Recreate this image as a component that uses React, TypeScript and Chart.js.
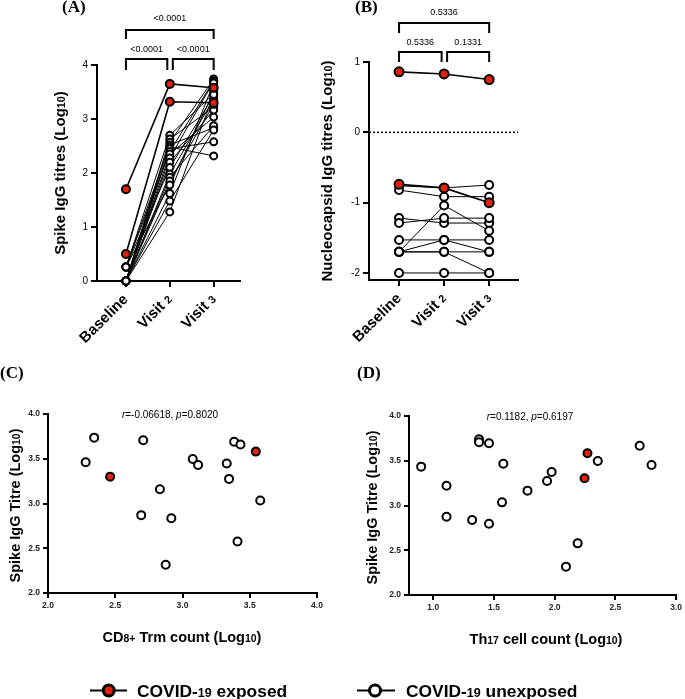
import React, { useEffect, useRef } from "react";
import { Chart, registerables } from "chart.js";
Chart.register(...registerables);

const W = 685;
const H = 699;
const SANS = "'Liberation Sans', Arial, Helvetica, sans-serif";
const SERIF = "'Liberation Serif', 'Times New Roman', serif";
const RED = "#e3200b";

// ---------- Panel A: Spike IgG titres ----------
const visitTickLabels = ["Baseline", "Visit {2}", "Visit {3}"];
const spikeExposed = [
  [1.7, 3.65, 3.58],
  [0.5, 3.32, 3.3],
];
const spikeBaseline = [0.26, 0, 0, 0.26, 0, 0, 0.26, 0, 0, 0, 0.26, 0, 0, 0, 0.26, 0, 0, 0];
const spikeVisit2 = [2.7, 2.63, 2.57, 2.52, 2.48, 2.45, 2.4, 2.35, 2.28, 2.2, 2.1, 1.98, 1.92, 1.85, 1.78, 1.62, 1.48, 1.28];
const spikeVisit3 = [3.467, 3.22, 3.74, 2.838, 2.317, 2.577, 3.706, 3.035, 3.695, 3.166, 3.434, 3.374, 2.875, 3.274, 3.497, 3.668, 2.797, 3.452];
const spikePValues = ["<0.0001", "<0.0001", "<0.0001"]; // B-V2, V2-V3, B-V3
const spikeYTicks = [0, 1, 2, 3, 4];

// ---------- Panel B: Nucleocapsid IgG titres ----------
const ncExposed = [
  [0.86, 0.83, 0.75],
  [-0.74, -0.79, -1.0],
];
const ncBaseline = [-0.76, -0.82, -1.22, -1.29, -1.53, -1.7, -1.7, -1.7, -1.7, -2.0];
const ncVisit2 = [-0.79, -0.915, -1.29, -1.22, -1.53, -1.53, -1.04, -1.7, -1.7, -2.0];
const ncVisit3 = [-0.75, -0.915, -1.29, -1.22, -1.53, -1.7, -1.4, -1.7, -2.0, -2.0];
const ncPValues = ["0.5336", "0.1331", "0.5336"];
const ncYTicks = [-2, -1, 0, 1];

// ---------- Panel C: CD8+ Trm vs Spike ----------
const cd8UnexpX = [2.28, 2.343, 2.708, 2.693, 2.832, 2.875, 2.917, 3.076, 3.116, 3.329, 3.346, 3.384, 3.431, 3.409, 3.578];
const cd8UnexpY = [3.46, 3.736, 3.706, 2.87, 3.16, 2.316, 2.836, 3.498, 3.43, 3.446, 3.275, 3.69, 3.66, 2.576, 3.033];
const cd8ExpX = [2.462, 3.545];
const cd8ExpY = [3.3, 3.58];
const cd8XTicks = [2.0, 2.5, 3.0, 3.5, 4.0];
const corrC = ["-0.06618", "0.8020"];

// ---------- Panel D: Th17 vs Spike ----------
const th17UnexpX = [0.9, 1.109, 1.109, 1.32, 1.377, 1.377, 1.459, 1.459, 1.566, 1.577, 1.776, 1.937, 1.975, 2.093, 2.189, 2.355, 2.7, 2.798];
const th17UnexpY = [3.434, 3.22, 2.875, 2.838, 3.74, 3.706, 3.695, 2.797, 3.035, 3.467, 3.166, 3.274, 3.374, 2.317, 2.577, 3.497, 3.668, 3.452];
const th17ExpX = [2.246, 2.27];
const th17ExpY = [3.304, 3.583];
const th17XTicks = [1.0, 1.5, 2.0, 2.5, 3.0];
const corrD = ["0.1182", "0.6197"];
const scatterYTicks = [2.0, 2.5, 3.0, 3.5, 4.0];

// ---------- Text ----------
const titleA = "Spike IgG titres (Log{10})";
const titleB = "Nucleocapsid IgG titres (Log{10})";
const titleScatterY = "Spike IgG Titre (Log{10})";
const titleCX = "CD{8+} Trm count (Log{10})";
const titleDX = "Th{17} cell count (Log{10})";
const panelLetters = ["(A)", "(B)", "(C)", "(D)"];
const legendLabels = ["COVID-{19} exposed", "COVID-{19} unexposed"];

type Seg = { t: string; s: number; w?: string; i?: boolean; f?: string };

function rich(str: string, size: number, w = "bold", ratio = 0.72): Seg[] {
  const out: Seg[] = [];
  const re = /\{([^}]*)\}/g;
  let last = 0;
  let m: RegExpExecArray | null;
  while ((m = re.exec(str))) {
    if (m.index > last) out.push({ t: str.slice(last, m.index), s: size, w });
    out.push({ t: m[1], s: size * ratio, w });
    last = m.index + m[0].length;
  }
  if (last < str.length) out.push({ t: str.slice(last), s: size, w });
  return out;
}

function drawText(ctx: CanvasRenderingContext2D, segs: Seg[], x: number, y: number, align = "left", angle = 0) {
  ctx.save();
  ctx.translate(x, y);
  if (angle) ctx.rotate(angle);
  ctx.fillStyle = "#000";
  ctx.textBaseline = "alphabetic";
  ctx.textAlign = "left";
  const font = (g: Seg) => `${g.i ? "italic " : ""}${g.w ?? "normal"} ${g.s}px ${g.f ?? SANS}`;
  let total = 0;
  for (const g of segs) {
    ctx.font = font(g);
    total += ctx.measureText(g.t).width;
  }
  let cx = align === "center" ? -total / 2 : align === "right" ? -total : 0;
  for (const g of segs) {
    ctx.font = font(g);
    ctx.fillText(g.t, cx, 0);
    cx += ctx.measureText(g.t).width;
  }
  ctx.restore();
}

function bracket(ctx: CanvasRenderingContext2D, x1: number, x2: number, yTop: number, yBot: number, label: string, textY: number, size: number) {
  ctx.save();
  ctx.strokeStyle = "#000";
  ctx.lineWidth = 2;
  ctx.lineJoin = "miter";
  ctx.beginPath();
  ctx.moveTo(x1, yBot);
  ctx.lineTo(x1, yTop);
  ctx.lineTo(x2, yTop);
  ctx.lineTo(x2, yBot);
  ctx.stroke();
  ctx.font = `${size}px ${SANS}`;
  ctx.textAlign = "center";
  ctx.textBaseline = "middle";
  ctx.fillStyle = "#000";
  ctx.fillText(label, (x1 + x2) / 2, textY);
  ctx.restore();
}

const axisLine = { display: true, color: "#000", width: 2 };
const tickGrid = (len: number) => ({ display: true, drawOnChartArea: false, drawTicks: true, tickLength: len, color: "#000", lineWidth: 2 });
const fixTicks = (vals: number[]) => (s: any) => {
  s.ticks = vals.map((v) => ({ value: v }));
};

function pointSet(pts: { x: number; y: number }[], fill: string, r: number, order: number) {
  return {
    data: pts,
    showLine: false,
    pointRadius: r,
    pointBorderWidth: 2,
    pointBackgroundColor: fill,
    pointBorderColor: "#000",
    order,
    clip: false,
  };
}
function lineSet(vals: number[], width: number) {
  return {
    data: vals.map((v, i) => ({ x: i, y: v })),
    showLine: true,
    borderColor: "#000",
    borderWidth: width,
    pointRadius: 0,
    order: 2,
    clip: false,
  };
}

function baseOptions(left: number, top: number, right: number, bottom: number) {
  return {
    layout: { padding: { left: 0, top, right: W - right, bottom: 0 } },
    plugins: { legend: { display: false }, tooltip: { enabled: false } },
    xFit: (s: any) => {
      s.height = H - bottom;
    },
    yFit: (s: any) => {
      s.width = left;
    },
  };
}

function pairedConfig(opts: {
  area: [number, number, number, number];
  xRange: [number, number];
  yRange: [number, number];
  yTicks: number[];
  exposed: number[][];
  series: number[][];
  pValues: string[];
  bracketTop: [number, number, number];
  bracketLow: [number, number, number];
  dotted: boolean;
  title: string;
  titleX: number;
  letter: string;
  letterX: number;
  pointR: number;
}) {
  const [l, t, r, b] = opts.area;
  const base = baseOptions(l, t, r, b);
  const n = opts.series[0].length;
  const subjects: number[][] = [];
  for (let i = 0; i < n; i++) subjects.push(opts.series.map((s) => s[i]));
  const whitePts: { x: number; y: number }[] = [];
  subjects.forEach((s) => s.forEach((v, i) => whitePts.push({ x: i, y: v })));
  const redPts: { x: number; y: number }[] = [];
  opts.exposed.forEach((s) => s.forEach((v, i) => redPts.push({ x: i, y: v })));
  const datasets: any[] = [
    pointSet(redPts, RED, opts.pointR + 0.5, 0),
    pointSet(whitePts, "#fff", opts.pointR, 1),
    ...opts.exposed.map((s) => lineSet(s, 1.6)),
    ...subjects.map((s) => lineSet(s, 1)),
  ];
  if (opts.dotted) {
    datasets.push({
      data: [
        { x: opts.xRange[0], y: 0 },
        { x: opts.xRange[1], y: 0 },
      ],
      showLine: true,
      borderColor: "#000",
      borderWidth: 1.5,
      borderDash: [2, 2],
      pointRadius: 0,
      order: 3,
    });
  }
  return {
    type: "scatter",
    data: { datasets },
    options: {
      animation: false,
      responsive: false,
      events: [],
      layout: base.layout,
      plugins: base.plugins,
      scales: {
        x: {
          type: "linear",
          min: opts.xRange[0],
          max: opts.xRange[1],
          afterBuildTicks: fixTicks([0, 1, 2]),
          afterFit: base.xFit,
          ticks: { callback: () => "" },
          grid: tickGrid(6),
          border: axisLine,
        },
        y: {
          type: "linear",
          min: opts.yRange[0],
          max: opts.yRange[1],
          afterBuildTicks: fixTicks(opts.yTicks),
          afterFit: base.yFit,
          ticks: { font: { size: 10, family: SANS }, color: "#000", padding: 3 },
          grid: tickGrid(6),
          border: axisLine,
        },
      },
    },
    plugins: [
      {
        id: "pairedDecor",
        afterDraw(chart: any) {
          const ctx = chart.ctx as CanvasRenderingContext2D;
          const xs = chart.scales.x;
          const a = chart.chartArea;
          const p = [0, 1, 2].map((v) => xs.getPixelForValue(v));
          const [tt, tb, ty] = opts.bracketTop;
          const [lt, lb, ly] = opts.bracketLow;
          bracket(ctx, p[0], p[2], a.top + tt, a.top + tb, opts.pValues[2], a.top + ty, 9);
          bracket(ctx, p[0], p[1] - 2.5, a.top + lt, a.top + lb, opts.pValues[0], a.top + ly, 9);
          bracket(ctx, p[1] + 3, p[2], a.top + lt, a.top + lb, opts.pValues[1], a.top + ly, 9);
          visitTickLabels.forEach((lab, i) => {
            drawText(ctx, rich(lab, 15), p[i] + 3, a.bottom + 19, "right", -Math.PI / 4);
          });
          drawText(ctx, rich(opts.title, 15), opts.titleX + 5.4, (a.top + a.bottom) / 2, "center", -Math.PI / 2);
          drawText(ctx, [{ t: opts.letter, s: 17, w: "bold", f: SERIF }], opts.letterX, 12, "left");
        },
      },
    ],
  };
}

function scatterConfig(opts: {
  area: [number, number, number, number];
  xRange: [number, number];
  xTicks: number[];
  ux: number[];
  uy: number[];
  ex: number[];
  ey: number[];
  corr: string[];
  corrX: number;
  xTitle: string;
  xTitleX: number;
  yTitleX: number;
  letter: string;
  letterX: number;
  legend: boolean;
}) {
  const [l, t, r, b] = opts.area;
  const base = baseOptions(l, t, r, b);
  const tickFont = { size: 8.5, family: SANS, weight: "bold" };
  return {
    type: "scatter",
    data: {
      datasets: [
        pointSet(opts.ex.map((x, i) => ({ x, y: opts.ey[i] })), RED, 4, 0),
        pointSet(opts.ux.map((x, i) => ({ x, y: opts.uy[i] })), "#fff", 4, 1),
      ],
    },
    options: {
      animation: false,
      responsive: false,
      events: [],
      layout: base.layout,
      plugins: base.plugins,
      scales: {
        x: {
          type: "linear",
          min: opts.xRange[0],
          max: opts.xRange[1],
          afterBuildTicks: fixTicks(opts.xTicks),
          afterFit: base.xFit,
          ticks: { font: tickFont, color: "#222", padding: 3, maxRotation: 0, callback: (v: number) => v.toFixed(1) },
          grid: tickGrid(5),
          border: axisLine,
        },
        y: {
          type: "linear",
          min: 2,
          max: 4,
          afterBuildTicks: fixTicks(scatterYTicks),
          afterFit: base.yFit,
          ticks: { font: tickFont, color: "#222", padding: 3, callback: (v: number) => v.toFixed(1) },
          grid: tickGrid(5),
          border: axisLine,
        },
      },
    },
    plugins: [
      {
        id: "scatterDecor",
        afterDraw(chart: any) {
          const ctx = chart.ctx as CanvasRenderingContext2D;
          const a = chart.chartArea;
          drawText(ctx, rich(titleScatterY, 14.5), opts.yTitleX + 5.2, (a.top + a.bottom) / 2 + 2, "center", -Math.PI / 2);
          drawText(ctx, rich(opts.xTitle, 14.5), opts.xTitleX, a.bottom + 49, "center");
          drawText(
            ctx,
            [
              { t: "r", s: 10, i: true },
              { t: "=" + opts.corr[0] + ", ", s: 10 },
              { t: "p", s: 10, i: true },
              { t: "=" + opts.corr[1], s: 10 },
            ],
            opts.corrX,
            a.top + 4,
            "center"
          );
          drawText(ctx, [{ t: opts.letter, s: 17, w: "bold", f: SERIF }], opts.letterX, 378, "left");
          if (opts.legend) {
            const items = [
              { x0: 90, x1: 127, cx: 108.7, fill: RED, tx: 137, label: legendLabels[0] },
              { x0: 357, x1: 395, cx: 375, fill: "#fff", tx: 406, label: legendLabels[1] },
            ];
            const ly = 690.5;
            items.forEach((it) => {
              ctx.save();
              ctx.strokeStyle = "#000";
              ctx.lineWidth = 2;
              ctx.beginPath();
              ctx.moveTo(it.x0, ly);
              ctx.lineTo(it.x1, ly);
              ctx.stroke();
              ctx.beginPath();
              ctx.arc(it.cx, ly, 5.5, 0, Math.PI * 2);
              ctx.fillStyle = it.fill;
              ctx.fill();
              ctx.lineWidth = 3;
              ctx.stroke();
              ctx.restore();
              drawText(ctx, rich(it.label, 17.4), it.tx, ly + 6, "left");
            });
          }
        },
      },
    ],
  };
}

function ChartCanvas({ make }: { make: () => any }) {
  const ref = useRef<HTMLCanvasElement>(null);
  useEffect(() => {
    const chart = new Chart(ref.current as HTMLCanvasElement, make());
    return () => chart.destroy();
  }, []);
  return (
    <canvas
      ref={ref}
      width={W}
      height={H}
      style={{ position: "absolute", left: 0, top: 0, width: W, height: H }}
    />
  );
}

export default function App() {
  return (
    <div style={{ position: "absolute", left: 0, top: 0, width: W, height: H, background: "#fff", overflow: "hidden" }}>
      <ChartCanvas
        make={() =>
          pairedConfig({
            area: [97, 65, 240, 281],
            xRange: [-0.66, 2.6],
            yRange: [0, 4],
            yTicks: spikeYTicks,
            exposed: spikeExposed,
            series: [spikeBaseline, spikeVisit2, spikeVisit3],
            pValues: spikePValues,
            bracketTop: [-35, -26, -46],
            bracketLow: [-6, 5, -15],
            dotted: false,
            title: titleA,
            titleX: 60,
            letter: panelLetters[0],
            letterX: 62,
            pointR: 3.5,
          })
        }
      />
      <ChartCanvas
        make={() =>
          pairedConfig({
            area: [369, 62, 518, 280],
            xRange: [-0.667, 2.64],
            yRange: [-2.1, 1],
            yTicks: ncYTicks,
            exposed: ncExposed,
            series: [ncBaseline, ncVisit2, ncVisit3],
            pValues: ncPValues,
            bracketTop: [-39, -29, -49],
            bracketLow: [-10, 0, -19],
            dotted: true,
            title: titleB,
            titleX: 327,
            letter: panelLetters[1],
            letterX: 355,
            pointR: 4,
          })
        }
      />
      <ChartCanvas
        make={() =>
          scatterConfig({
            area: [48, 414, 317, 593],
            xRange: [2, 4],
            xTicks: cd8XTicks,
            ux: cd8UnexpX,
            uy: cd8UnexpY,
            ex: cd8ExpX,
            ey: cd8ExpY,
            corr: corrC,
            corrX: 170,
            xTitle: titleCX,
            xTitleX: 182,
            yTitleX: 15,
            letter: panelLetters[2],
            letterX: 0,
            legend: true,
          })
        }
      />
      <ChartCanvas
        make={() =>
          scatterConfig({
            area: [409, 416, 678, 595],
            xRange: [0.8, 3.0],
            xTicks: th17XTicks,
            ux: th17UnexpX,
            uy: th17UnexpY,
            ex: th17ExpX,
            ey: th17ExpY,
            corr: corrD,
            corrX: 530,
            xTitle: titleDX,
            xTitleX: 546,
            yTitleX: 372,
            letter: panelLetters[3],
            letterX: 357,
            legend: false,
          })
        }
      />
    </div>
  );
}
